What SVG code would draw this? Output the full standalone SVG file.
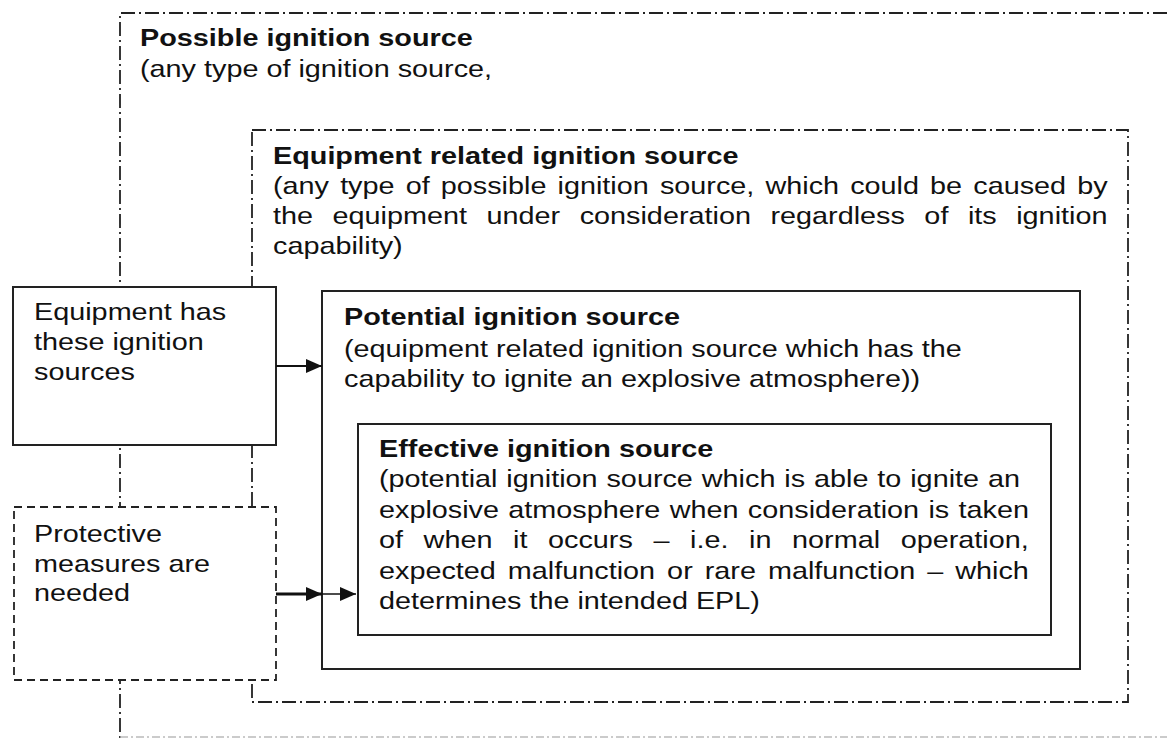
<svg xmlns="http://www.w3.org/2000/svg" width="1167" height="740" viewBox="0 0 1167 740">
<style>
  .t { font-family: "Liberation Sans", Arial, sans-serif; font-size: 24px; fill: #111; }
  .b { font-weight: bold; }
  .dd { fill: none; stroke: #222; stroke-width: 1.8; stroke-dasharray: 14 4 2 4; }
  .box { fill: #fff; stroke: #222; stroke-width: 2; }
  .dash { fill: #fff; stroke: #222; stroke-width: 1.8; stroke-dasharray: 8 5; }
  .inner { fill: none; stroke: #222; stroke-width: 2; }
  .conn { stroke: #111; fill: none; }
</style>
<defs>
  <marker id="ah" viewBox="0 0 16 14" refX="16" refY="7" markerWidth="16" markerHeight="14" markerUnits="userSpaceOnUse" orient="auto">
    <path d="M0,0 L16,7 L0,14 Z" fill="#111"/>
  </marker>
</defs>
<rect width="1167" height="740" fill="#fff"/>

<g id="possible">
  <path class="dd" d="M1167,13 H120 V740"/>
  <path d="M120,737 H1167" fill="none" stroke="#bbb" stroke-width="1.5" stroke-dasharray="8 3 2 3"/>
  <text class="t b" transform="translate(140,46) scale(1.2,1)">Possible ignition source</text>
  <text class="t" transform="translate(140,77) scale(1.2,1)">(any type of ignition source,</text>
</g>

<g id="equipment-related">
  <rect class="dd" x="252" y="130" width="876" height="572"/>
  <text class="t b" transform="translate(273,164) scale(1.2,1)">Equipment related ignition source</text>
  <text class="t" transform="translate(273,194) scale(1.2,1)" word-spacing="2.6">(any type of possible ignition source, which could be caused by</text>
  <text class="t" transform="translate(273,224) scale(1.2,1)" word-spacing="9.6">the equipment under consideration regardless of its ignition</text>
  <text class="t" transform="translate(273,254) scale(1.2,1)">capability)</text>
</g>

<g id="potential">
  <rect class="inner" x="322" y="291" width="758" height="378"/>
  <text class="t b" transform="translate(344,325) scale(1.2,1)">Potential ignition source</text>
  <text class="t" transform="translate(344,357) scale(1.2,1)">(equipment related ignition source which has the</text>
  <text class="t" transform="translate(344,387) scale(1.2,1)">capability to ignite an explosive atmosphere))</text>
</g>

<g id="effective">
  <rect class="inner" x="358" y="424" width="693" height="211"/>
  <text class="t b" transform="translate(379,457) scale(1.2,1)">Effective ignition source</text>
  <text class="t" transform="translate(379,487) scale(1.2,1)" word-spacing="0.75">(potential ignition source which is able to ignite an</text>
  <text class="t" transform="translate(379,518) scale(1.2,1)" word-spacing="1.1">explosive atmosphere when consideration is taken</text>
  <text class="t" transform="translate(379,548) scale(1.2,1)" word-spacing="10.5">of when it occurs – i.e. in normal operation,</text>
  <text class="t" transform="translate(379,579) scale(1.2,1)" word-spacing="3.35">expected malfunction or rare malfunction – which</text>
  <text class="t" transform="translate(379,609) scale(1.2,1)">determines the intended EPL)</text>
</g>

<g id="equipment-has">
  <rect class="box" x="13" y="287" width="263" height="158"/>
  <text class="t" transform="translate(34,320) scale(1.2,1)">Equipment has</text>
  <text class="t" transform="translate(34,350) scale(1.2,1)">these ignition</text>
  <text class="t" transform="translate(34,380) scale(1.2,1)">sources</text>
</g>

<g id="protective">
  <rect class="dash" x="14" y="507" width="262" height="173"/>
  <text class="t" transform="translate(34,542) scale(1.2,1)">Protective</text>
  <text class="t" transform="translate(34,572) scale(1.2,1)">measures are</text>
  <text class="t" transform="translate(34,601) scale(1.2,1)">needed</text>
</g>

<g id="connectors">
  <line class="conn" x1="276" y1="366" x2="322" y2="366" stroke-width="2" marker-end="url(#ah)"/>
  <line class="conn" x1="276" y1="594" x2="322" y2="594" stroke-width="2.8" marker-end="url(#ah)"/>
  <line class="conn" x1="320" y1="594" x2="356" y2="594" stroke-width="1.6" marker-end="url(#ah)"/>
</g>
</svg>
